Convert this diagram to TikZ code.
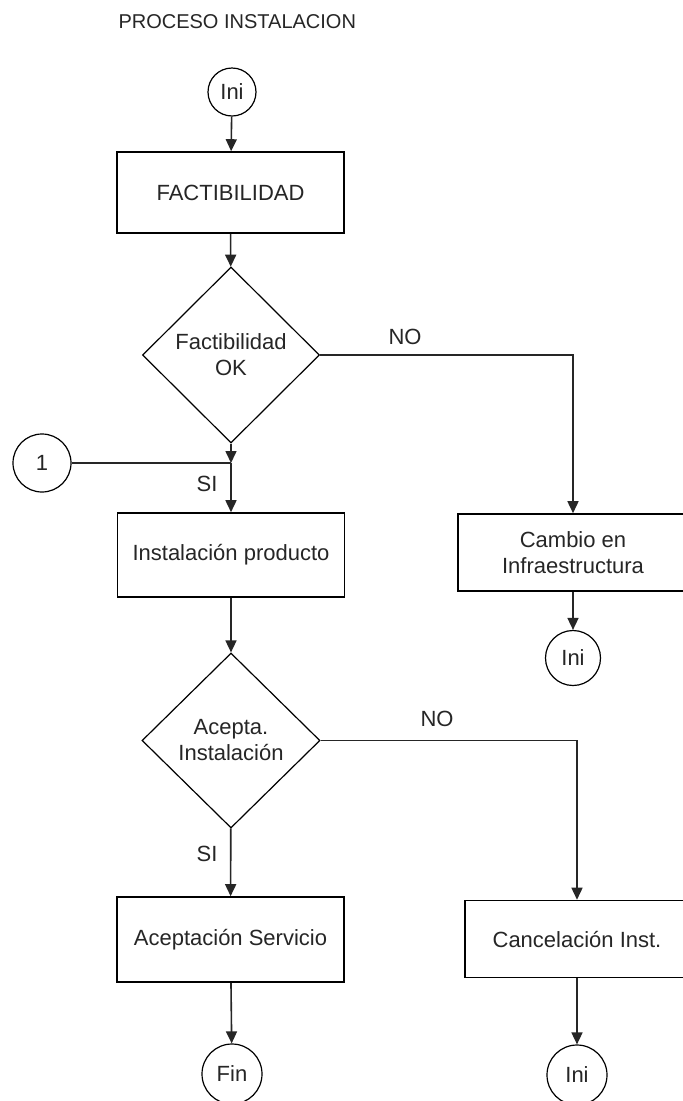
\documentclass[tikz,border=0pt]{standalone}
\usepackage{fontspec}
\setmainfont{Liberation Sans}
\usetikzlibrary{shapes.geometric,arrows.meta}
\begin{document}
\begin{tikzpicture}[x=1pt, y=-1pt,
  font=\fontsize{22}{26}\selectfont,
  proc/.style={draw, line width=1.6pt, minimum width=227pt, align=center, inner sep=0pt, text=black!85},
  decis/.style={draw, diamond, line width=1.2pt, minimum width=177pt, minimum height=176pt, inner sep=0pt, align=center, text=black!85},
  conn/.style={draw, circle, line width=1.2pt, inner sep=0pt, text=black!85},
  flow/.style={line width=1.6pt, black!85, -{Triangle[length=12pt,width=11pt]}},
  lbl/.style={text=black!85}]
  \useasboundingbox[fill=white] (0,0) rectangle (683,1101);

  % Title
  \node[lbl, anchor=west, font=\fontsize{20}{24}\selectfont] (title) at (115, 22) {PROCESO INSTALACION};

  % Start and feasibility
  \node[conn, minimum size=48pt] (ini) at (232, 92) {Ini};
  \node[proc, minimum height=81pt] (fact) at (230.5, 192.5) {FACTIBILIDAD};
  \node[decis] (okfact) at (231, 355) {Factibilidad\\OK};
  \draw[flow] (ini) -- (fact);
  \draw[flow] (fact) -- (okfact);

  % Connector 1 joins the SI branch
  \node[conn, minimum size=58pt] (uno) at (42, 463) {1};
  \coordinate (junta) at (231, 463);
  \draw[flow] (okfact.south) -- (junta);
  \draw[line width=1.6pt, black!85] (uno) -- (junta);
  \node[proc, minimum height=84pt] (inst) at (231, 555) {Instalación producto};
  \draw[flow] (junta) -- (inst);
  \node[lbl] (si1) at (207, 484) {SI};

  % NO branch: infrastructure change
  \node[proc, minimum width=230pt, minimum height=77pt] (cambio) at (573, 552.5) {Cambio en\\Infraestructura};
  \draw[flow] (okfact.east) -| (cambio.north);
  \node[lbl] (no1) at (405, 337) {NO};
  \node[conn, minimum size=55pt] (iniA) at (573, 658) {Ini};
  \draw[flow] (cambio) -- (iniA);

  % Acceptance decision
  \node[decis, minimum width=178pt, minimum height=175pt] (acepta) at (231, 740.5) {Acepta.\\Instalación};
  \draw[flow] (inst) -- (acepta);
  \node[proc, minimum height=85pt] (aceptserv) at (230.5, 939.5) {Aceptación Servicio};
  \draw[flow] (acepta) -- (aceptserv);
  \node[lbl] (si2) at (207, 854) {SI};
  \node[conn, minimum size=60pt] (fin) at (232, 1074) {Fin};
  \draw[flow] (aceptserv) -- (fin);

  % NO branch: cancellation
  \node[proc, minimum width=224pt, minimum height=77pt] (cancel) at (577, 939) {Cancelación Inst.};
  \draw[flow] (acepta.east) -| (cancel.north);
  \node[lbl] (no2) at (437, 719) {NO};
  \node[conn, minimum size=60pt] (iniB) at (577, 1075) {Ini};
  \draw[flow] (cancel) -- (iniB);
\end{tikzpicture}
\end{document}
